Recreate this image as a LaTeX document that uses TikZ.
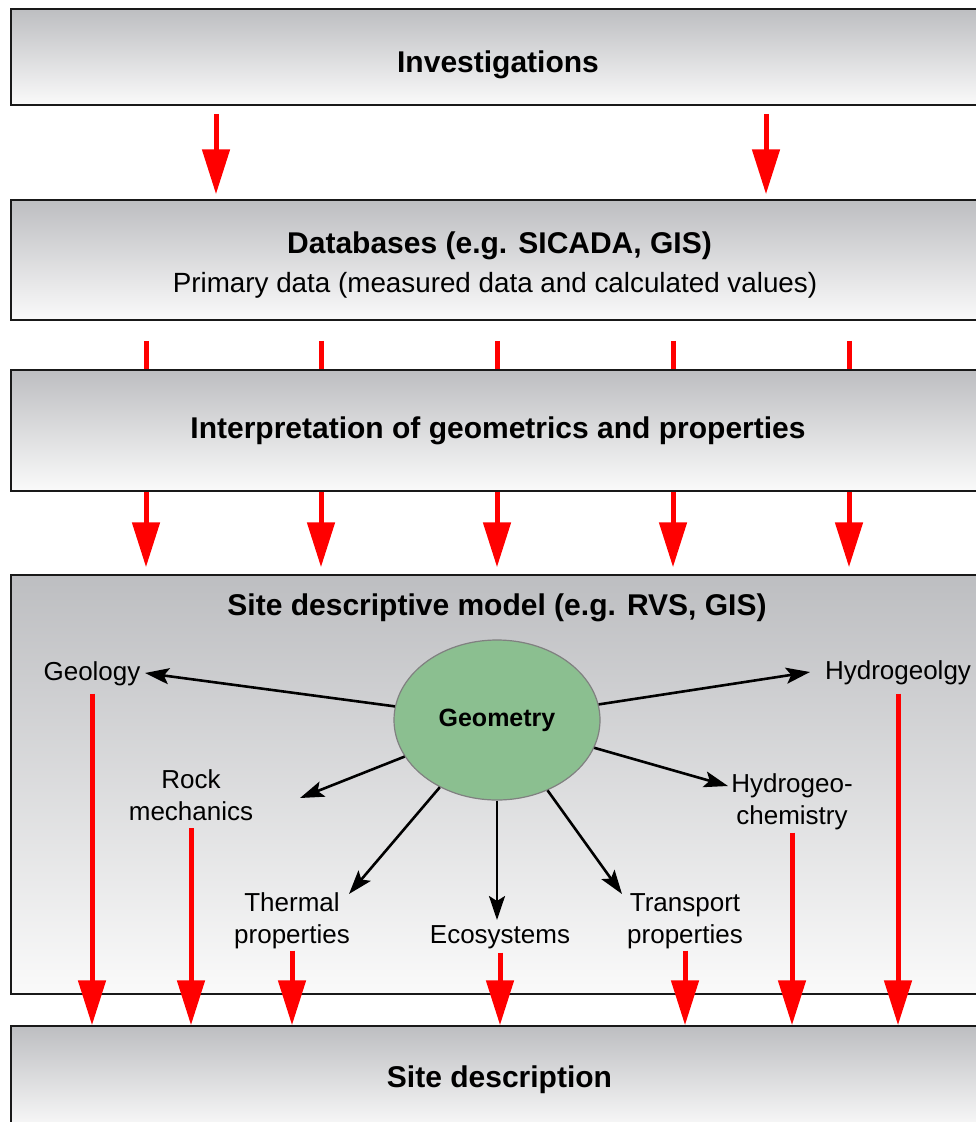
\documentclass[tikz,border=0pt]{standalone}
\usepackage{fontspec}
\setmainfont{Liberation Sans}
\usepackage{tikz}
\usetikzlibrary{arrows.meta,shapes.geometric,calc}
\definecolor{boxtop}{RGB}{189,190,193}
\definecolor{boxbot}{RGB}{250,250,250}
\definecolor{geomgreen}{RGB}{139,191,144}
\tikzset{box/.style={draw=black!90, line width=1.5pt, rectangle, top color=boxtop, bottom color=boxbot, minimum width=974pt, inner sep=0pt}}
\tikzstyle{ttl}=[anchor=base, inner sep=0pt, font=\fontsize{30}{36}\selectfont\bfseries]
\tikzstyle{sub}=[anchor=base, inner sep=0pt, font=\fontsize{27.8}{33}\selectfont]
\tikzstyle{lbl}=[anchor=base, inner sep=0pt, align=center, font=\fontsize{26}{31.5}\selectfont]
\tikzstyle{redarrow}=[draw=red, line width=5pt, -{Triangle[length=45pt,width=27pt]}]
\tikzstyle{redline}=[draw=red, line width=5pt]
\tikzstyle{blkarrow}=[draw=black, line width=2.6pt, -{Stealth[length=24pt,width=16pt,inset=5pt]}]

\begin{document}
\begin{tikzpicture}[x=1pt, y=-1pt]
\useasboundingbox (0,0) rectangle (976,1122);
\clip (0,0) rectangle (976,1122);
% boxes
\node[box, minimum height=96pt] (inv) at (498,57) {};
\node[box, minimum height=120pt] (db) at (498,260) {};
\node[box, minimum height=121pt] (intp) at (498,430.5) {};
\node[box, minimum height=419pt] (model) at (498,784.5) {};
\node[box, minimum height=104pt] (desc) at (498,1078) {};
% box texts
\node[ttl] (invtxt) at (498,72) {Investigations};
\node[ttl] (dbtxt) at (499.5,253) {Databases (e.g. SICADA, GIS)};
\node[sub] (dbsub) at (495,292) {Primary data (measured data and calculated values)};
\node[ttl] (intptxt) at (498,438) {Interpretation of geometrics and properties};
\node[ttl] (modeltxt) at (497,615) {Site descriptive model (e.g. RVS, GIS)};
\node[ttl] (desctxt) at (499.5,1087) {Site description};
% model
\node[ellipse, draw=gray, line width=1.2pt, fill=geomgreen, minimum width=206pt, minimum height=160pt, inner sep=0pt, font=\fontsize{25}{30}\selectfont\bfseries] (geom) at (497,720) {Geometry};
\node[lbl] (geo) at (92,680) {Geology};
\node[lbl] (hgeol) at (898,679) {Hydrogeolgy};
\node[lbl] (rock) at (191,820) {Rock\\mechanics};
\node[lbl] (hchem) at (792,824) {Hydrogeo-\\chemistry};
\node[lbl] (therm) at (292,943) {Thermal\\properties};
\node[lbl] (eco) at (500,943) {Ecosystems};
\node[lbl] (trans) at (685,943) {Transport\\properties};
\coordinate (tgeo) at (145,673);
\coordinate (thgeol) at (810,672);
\coordinate (trock) at (300,798);
\coordinate (thchem) at (728,786);
\coordinate (ttherm) at (349,894);
\coordinate (teco) at (497,920);
\coordinate (ttrans) at (622,894);
\foreach \t in {tgeo,thgeol,trock,thchem,ttherm,teco,ttrans}
  \draw[blkarrow] (geom) -- (\t);
% red arrows
\foreach \x in {216,766} {
  \coordinate (c) at (\x,0);
  \draw[redarrow, shorten <=8pt, shorten >=5pt] (inv.south -| c) -- (db.north -| c);
}
\foreach \x in {146,321,497,673,849} {
  \coordinate (c) at (\x,0);
  \draw[redline] ([yshift=-20pt]db.south -| c) -- (intp.north -| c);
  \draw[redarrow, shorten >=7pt] (intp.south -| c) -- (model.north -| c);
}
\foreach \n/\g in {geo/8,rock/8,therm/2,eco/4,trans/2,hchem/3,hgeol/9}
  \draw[redarrow] ([yshift=-\g pt]\n.south) -- (\n.south |- desc.north);
\end{tikzpicture}
\end{document}
